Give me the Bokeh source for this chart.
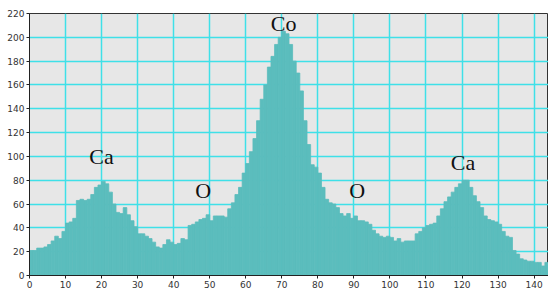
from bokeh.plotting import figure
from bokeh.models import Range1d, FixedTicker, ColumnDataSource
from bokeh.embed import file_html
from bokeh.resources import INLINE
from bokeh.core.properties import value

# channel (bin start) and counts, one bin per unit
channels = list(range(0, 144))
counts = [
    21, 21, 23, 23, 24, 26, 29, 33, 31, 37,
    44, 45, 48, 63, 64, 63, 64, 68, 74, 76,
    79, 77, 70, 60, 53, 52, 57, 51, 46, 41,
    35, 35, 33, 31, 28, 24, 23, 26, 30, 28,
    26, 27, 31, 30, 42, 43, 45, 47, 48, 51,
    46, 50, 50, 50, 49, 56, 61, 68, 74, 86,
    94, 104, 115, 130, 148, 160, 175, 184, 194, 200,
    205, 203, 194, 180, 170, 155, 130, 110, 93, 91,
    86, 74, 64, 61, 60, 57, 52, 50, 52, 48,
    50, 46, 46, 45, 43, 38, 35, 33, 32, 33,
    32, 29, 31, 28, 29, 29, 29, 35, 37, 40,
    42, 43, 44, 50, 56, 62, 66, 70, 74, 77,
    80, 80, 74, 67, 62, 57, 50, 47, 46, 45,
    43, 37, 33, 32, 21, 18, 14, 13, 12, 12,
    11, 11, 8, 11,
]

# peak labels
label_text = ["Ca", "O", "Co", "O", "Ca"]
label_x = [20, 48.2, 70.5, 90.9, 120.3]
label_y = [100, 71, 212, 71, 95]

x_ticks = [0, 10, 20, 30, 40, 50, 60, 70, 80, 90, 100, 110, 120, 130, 140]
y_ticks = [0, 20, 40, 60, 80, 100, 120, 140, 160, 180, 200, 220]

src = ColumnDataSource(dict(
    left=channels,
    right=[c + 1 for c in channels],
    top=counts,
    bottom=[0] * len(counts),
))

p = figure(width=548, height=291, output_backend="svg", toolbar_location=None,
           x_range=Range1d(0, 144), y_range=Range1d(0, 220),
           min_border_left=29, min_border_right=0, min_border_top=13,
           min_border_bottom=16)

p.background_fill_color = "#e7e7e7"
p.border_fill_color = "white"
p.outline_line_color = "#333333"
p.outline_line_width = 1

p.quad(left="left", right="right", top="top", bottom="bottom", source=src,
       fill_color="#5bbdbd", line_color="#5bbdbd", line_width=0.8)

for ax in (p.xaxis[0], p.yaxis[0]):
    ax.major_label_text_font = "DejaVu Sans"
    ax.major_label_text_font_size = "9px"
    ax.major_label_text_color = "#333333"
    ax.axis_line_color = "#222222"
    ax.axis_line_width = 1
    ax.major_tick_line_color = "#222222"
    ax.major_tick_in = 0
    ax.major_tick_out = 3
    ax.minor_tick_line_color = None
    ax.major_label_standoff = 2

p.xaxis[0].ticker = FixedTicker(ticks=x_ticks)
p.yaxis[0].ticker = FixedTicker(ticks=y_ticks)

p.xgrid[0].ticker = FixedTicker(ticks=x_ticks)
p.ygrid[0].ticker = FixedTicker(ticks=y_ticks)
for g in (p.xgrid[0], p.ygrid[0]):
    g.grid_line_color = "#3fe0e8"
    g.grid_line_width = 1.5
    g.grid_line_alpha = 1.0

lsrc = ColumnDataSource(dict(x=label_x, y=label_y, t=label_text))
p.text(x="x", y="y", text="t", source=lsrc, text_align="center",
       text_baseline="alphabetic", text_font=value("Liberation Serif"),
       text_font_size="22px", text_color="#111111")

open("out.html", "w").write(file_html(p, INLINE))
